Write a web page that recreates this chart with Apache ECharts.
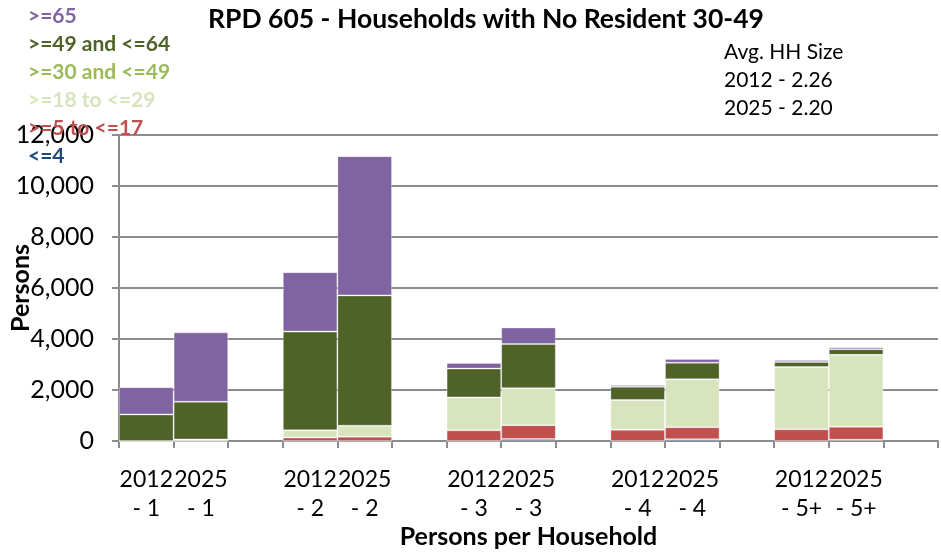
<!DOCTYPE html>
<html>
<head>
<meta charset="utf-8">
<title>RPD 605 - Households with No Resident 30-49</title>
<script src="https://cdn.jsdelivr.net/npm/echarts@6/dist/echarts.min.js"></script>
<style>
  html, body { margin: 0; padding: 0; background: #fff; }
  #chart { width: 941px; height: 555px; }
</style>
</head>
<body>
<div id="chart"></div>
<script>
// Household size groups (2012 and 2025 side by side, blank slot between groups)
const categories = ['2012\n- 1', '2025\n- 1', '', '2012\n- 2', '2025\n- 2', '',
  '2012\n- 3', '2025\n- 3', '', '2012\n- 4', '2025\n- 4', '', '2012\n- 5+', '2025\n- 5+', ''];

// Persons by age band, bottom of stack first
const ageLe4     = [0, 0, null, 0, 0, null, 0, 80, null, 0, 70, null, 0, 50, null];
const age5to17   = [0, 0, null, 140, 170, null, 420, 540, null, 440, 470, null, 460, 510, null];
const age18to29  = [0, 60, null, 280, 430, null, 1290, 1450, null, 1170, 1880, null, 2440, 2820, null];
const age30to49  = [0, 0, null, 0, 0, null, 0, 0, null, 0, 0, null, 0, 0, null];
const age49to64  = [1040, 1480, null, 3870, 5110, null, 1130, 1730, null, 520, 650, null, 200, 220, null];
const age65plus  = [1070, 2720, null, 2330, 5460, null, 220, 650, null, 70, 150, null, 80, 80, null];

const seriesNames = ['<=4', '>=5 to <=17', '>=18 to <=29', '>=30 and <=49', '>=49 and <=64', '>=65'];
const seriesValues = [ageLe4, age5to17, age18to29, age30to49, age49to64, age65plus];
const seriesColors = ['#2B4F8A', '#C0504D', '#D7E4BD', '#9BBB59', '#4F6228', '#8064A2'];
const legendTextColors = ['#1F497D', '#C0504D', '#D7E4BD', '#9BBB59', '#4F6228', '#8064A2'];

const yTicks = { min: 0, max: 12000, interval: 2000 };
const avgSizeNote = ['Avg. HH Size', '2012 - 2.26', '2025 - 2.20'];

const FONT = 'Lato, "Liberation Sans", sans-serif';

const chart = echarts.init(document.getElementById('chart'), null, { renderer: 'canvas' });

const series = seriesNames.map((name, i) => ({
  name: name,
  type: 'bar',
  stack: 'persons',
  barCategoryGap: 0,
  data: seriesValues[i],
  itemStyle: {
    color: seriesColors[i],
    borderColor: 'rgba(255,255,255,0.3)',
    borderWidth: 1
  },
  emphasis: { disabled: true }
}));

chart.setOption({
  animation: false,
  backgroundColor: '#ffffff',
  title: {
    text: 'RPD 605 - Households with No Resident 30-49',
    left: 481,
    top: 1,
    textAlign: 'center',
    textStyle: { fontFamily: FONT, fontWeight: 'bold', fontSize: 26.5, color: '#000' }
  },
  legend: {
    orient: 'vertical',
    left: 18,
    top: 0,
    icon: 'none',
    itemWidth: 0,
    itemHeight: 10,
    itemGap: 6,
    selectedMode: false,
    data: seriesNames.slice().reverse().map(n => ({
      name: n,
      textStyle: { color: legendTextColors[seriesNames.indexOf(n)] }
    })),
    textStyle: { fontFamily: FONT, fontWeight: 'bold', fontSize: 21, lineHeight: 22 }
  },
  grid: {
    left: 119, right: 3, top: 135, bottom: 114,
    containLabel: false,
    outerBoundsMode: 'none'
  },
  xAxis: {
    type: 'category',
    data: categories,
    name: 'Persons per Household',
    nameLocation: 'middle',
    nameGap: 83,
    nameMoveOverlap: false,
    nameTextStyle: { fontFamily: FONT, fontWeight: 'bold', fontSize: 25, color: '#000' },
    axisLine: { lineStyle: { color: '#8c8c8c', width: 2 } },
    axisTick: { show: true, alignWithLabel: false, interval: 0, length: 7, lineStyle: { color: '#8c8c8c', width: 2 } },
    axisLabel: {
      interval: 0,
      margin: 24,
      fontFamily: FONT,
      fontSize: 23,
      lineHeight: 29,
      color: '#000'
    }
  },
  yAxis: {
    type: 'value',
    min: yTicks.min,
    max: yTicks.max,
    interval: yTicks.interval,
    name: 'Persons',
    nameLocation: 'middle',
    nameGap: 86,
    nameRotate: 90,
    nameMoveOverlap: false,
    nameTextStyle: { fontFamily: FONT, fontWeight: 'bold', fontSize: 25, color: '#000' },
    axisLine: { show: true, lineStyle: { color: '#8c8c8c', width: 2 } },
    axisTick: { show: true, length: 7, lineStyle: { color: '#8c8c8c', width: 2 } },
    splitLine: { show: true, lineStyle: { color: '#8c8c8c', width: 2 } },
    axisLabel: {
      margin: 25,
      fontFamily: FONT,
      fontSize: 25,
      color: '#000',
      formatter: v => v.toLocaleString('en-US')
    }
  },
  graphic: [{
    type: 'text',
    left: 724,
    top: 38,
    style: {
      text: avgSizeNote.join('\n'),
      font: '21px ' + FONT,
      lineHeight: 28,
      fill: '#000'
    }
  }],
  series: series
});
</script>
</body>
</html>
